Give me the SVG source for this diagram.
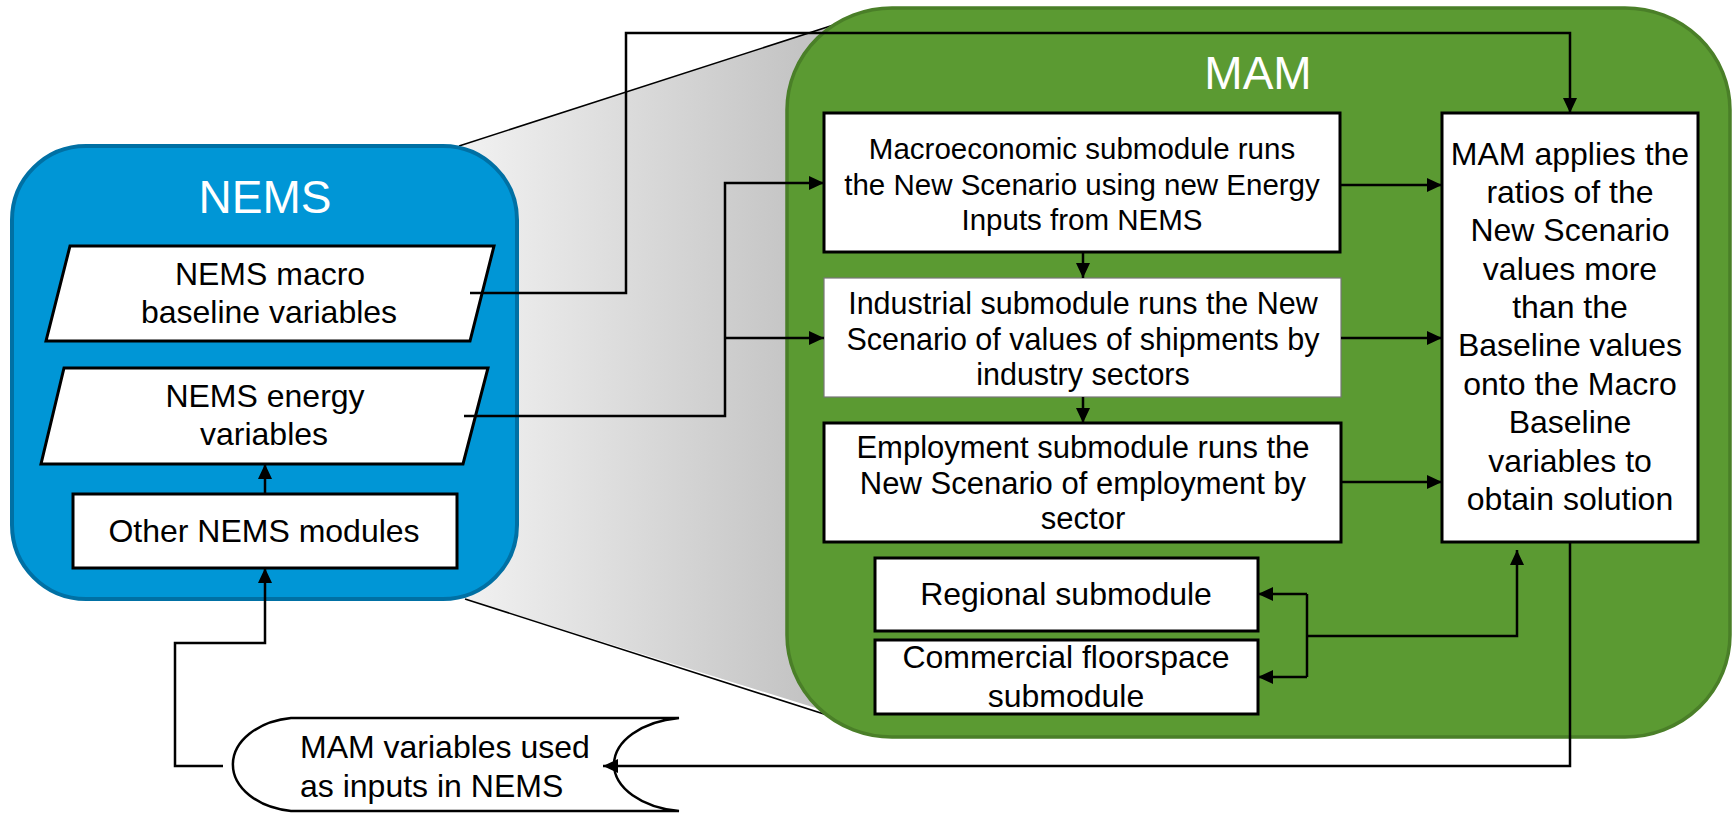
<svg xmlns="http://www.w3.org/2000/svg" width="1735" height="813" viewBox="0 0 1735 813">
<style>
text{font-family:"Liberation Sans",Arial,sans-serif;fill:#000;}
.t{font-size:32px;text-anchor:middle;}
.title{font-size:46px;fill:#fff;text-anchor:middle;}
.box{fill:#fff;stroke:#000;stroke-width:3;}
.con{fill:none;stroke:#000;stroke-width:2.5;}
.arr{marker-end:url(#ah);}
</style>
<defs>
<marker id="ah" markerUnits="userSpaceOnUse" markerWidth="15" markerHeight="14" refX="15" refY="7" orient="auto">
<path d="M0,0 L15,7 L0,14 z" fill="#000"/>
</marker>
<linearGradient id="zg" x1="459" y1="0" x2="800" y2="0" gradientUnits="userSpaceOnUse">
<stop offset="0" stop-color="#f2f2f2"/>
<stop offset="1" stop-color="#c4c4c4"/>
</linearGradient>
</defs>

<g id="zoom">
<polygon points="459,146 880,10 880,728 465,599" fill="url(#zg)"/>
<line x1="459" y1="146" x2="880" y2="10" stroke="#000" stroke-width="1.6"/>
<line x1="465" y1="599" x2="880" y2="732" stroke="#000" stroke-width="1.6"/>
</g>

<g id="nems">
<rect x="12" y="146" width="505" height="453" rx="74" ry="74" fill="#0096d6" stroke="#0070a4" stroke-width="4"/>
<text class="title" x="265" y="213">NEMS</text>
</g>

<g id="mam">
<rect x="787" y="8" width="943" height="729" rx="105" ry="102" fill="#5b9a32" stroke="#4a7f28" stroke-width="3.5"/>
<text class="title" x="1258" y="89">MAM</text>
</g>

<g id="nems-macro">
<polygon class="box" points="70,246 494,246 470,341 46,341" stroke-width="2.5"/>
<text class="t" x="270" y="285">NEMS macro</text>
<text class="t" x="269" y="323">baseline variables</text>
</g>

<g id="nems-energy">
<polygon class="box" points="64,368 488,368 463,464 41,464" stroke-width="2.5"/>
<text class="t" x="265" y="407">NEMS energy</text>
<text class="t" x="264" y="445">variables</text>
</g>

<g id="other-nems">
<rect class="box" x="73" y="494" width="384" height="74" stroke-width="2.5"/>
<text class="t" x="264" y="542">Other NEMS modules</text>
</g>

<g id="mam-vars">
<path d="M679,718 L291,718 A68,47 0 0 0 291,811 L679,811 A76,47 0 0 1 679,718 Z" fill="#fff" stroke="#000" stroke-width="2.5"/>
<text x="300" y="758" style="font-size:32px">MAM variables used</text>
<text x="300" y="797" style="font-size:32px">as inputs in NEMS</text>
</g>

<g id="macro">
<rect class="box" x="824" y="113" width="516" height="139"/>
<text class="t" x="1082" y="159" style="font-size:29.5px">Macroeconomic submodule runs</text>
<text class="t" x="1082" y="195" style="font-size:29.5px">the New Scenario using new Energy</text>
<text class="t" x="1082" y="230" style="font-size:29.5px">Inputs from NEMS</text>
</g>

<g id="industrial">
<rect x="824" y="278" width="517" height="119" fill="#fff" stroke="#777" stroke-width="1.2"/>
<text class="t" x="1083" y="314" style="font-size:30.5px">Industrial submodule runs the New</text>
<text class="t" x="1083" y="350" style="font-size:30.5px">Scenario of values of shipments by</text>
<text class="t" x="1083" y="385" style="font-size:30.5px">industry sectors</text>
</g>

<g id="employment">
<rect class="box" x="824" y="423" width="517" height="119"/>
<text class="t" x="1083" y="458" style="font-size:31px">Employment submodule runs the</text>
<text class="t" x="1083" y="494" style="font-size:31px">New Scenario of employment by</text>
<text class="t" x="1083" y="529" style="font-size:31px">sector</text>
</g>

<g id="regional">
<rect class="box" x="875" y="558" width="383" height="73"/>
<text class="t" x="1066" y="605">Regional submodule</text>
</g>

<g id="commercial">
<rect class="box" x="875" y="640" width="383" height="74"/>
<text class="t" x="1066" y="668">Commercial floorspace</text>
<text class="t" x="1066" y="707">submodule</text>
</g>

<g id="mam-applies">
<rect class="box" x="1442" y="113" width="256" height="429"/>
<text class="t" x="1570" y="165">MAM applies the</text>
<text class="t" x="1570" y="203">ratios of the</text>
<text class="t" x="1570" y="241">New Scenario</text>
<text class="t" x="1570" y="280">values more</text>
<text class="t" x="1570" y="318">than the</text>
<text class="t" x="1570" y="356">Baseline values</text>
<text class="t" x="1570" y="395">onto the Macro</text>
<text class="t" x="1570" y="433">Baseline</text>
<text class="t" x="1570" y="472">variables to</text>
<text class="t" x="1570" y="510">obtain solution</text>
</g>

<g id="connectors">
<polyline class="con arr" points="470,293 626,293 626,33 1570,33 1570,113"/>
<polyline class="con arr" points="464,416 725,416 725,183 824,183"/>
<polyline class="con arr" points="725,338 824,338"/>
<polyline class="con arr" points="1083,252 1083,278"/>
<polyline class="con arr" points="1083,397 1083,423"/>
<polyline class="con arr" points="1340,185 1442,185"/>
<polyline class="con arr" points="1341,338 1442,338"/>
<polyline class="con arr" points="1341,482 1442,482"/>
<polyline class="con" points="1307,594 1307,677"/>
<polyline class="con arr" points="1307,594 1258,594"/>
<polyline class="con arr" points="1307,677 1258,677"/>
<polyline class="con arr" points="1307,636 1517,636 1517,550"/>
<polyline class="con arr" points="1570,542 1570,766 603,766"/>
<polyline class="con arr" points="223,766 175,766 175,643 265,643 265,568"/>
<polyline class="con arr" points="265,494 265,464"/>
</g>
</svg>
